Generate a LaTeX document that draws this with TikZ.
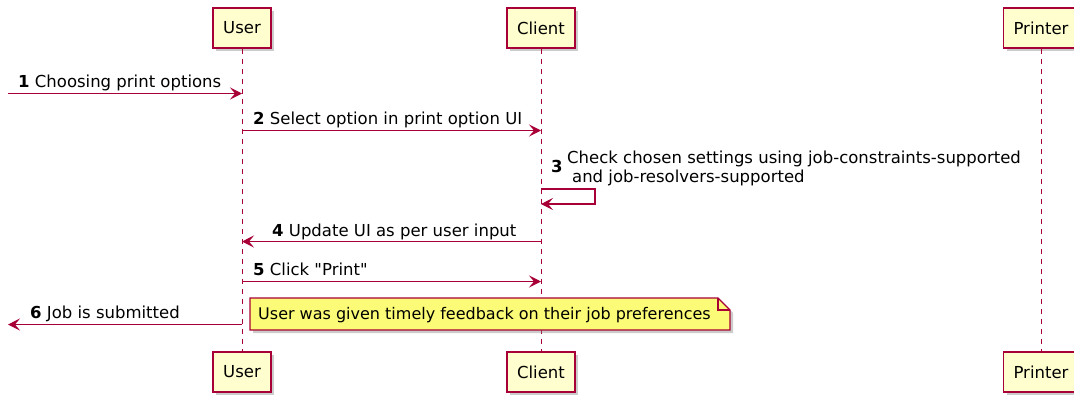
\documentclass[tikz,border=0pt]{standalone}
\usepackage{fontspec}
\setmainfont{DejaVu Sans}
\usetikzlibrary{arrows.meta,shadows}
\definecolor{umlred}{HTML}{A80036}
\definecolor{umlbox}{HTML}{FEFECE}
\definecolor{umlnote}{HTML}{FBFB77}
\begin{document}
\begin{tikzpicture}[x=1pt,y=-1pt,
    party/.style={draw=umlred,fill=umlbox,line width=1.5pt,minimum height=40pt,inner xsep=10pt,
      font=\fontsize{16.5}{19}\selectfont,drop shadow={shadow xshift=3pt,shadow yshift=-3pt,opacity=0.4}},
    life/.style={umlred,line width=1pt,dash pattern=on 5pt off 5pt},
    msg/.style={umlred,line width=1.3pt,-{Stealth[length=12pt,width=12pt,inset=5pt]}},
    lbl/.style={inner sep=0pt,anchor=base west,font=\fontsize{16.5}{19}\selectfont},
    notebox/.style={draw=umlred,fill=umlnote,line width=1.2pt,drop shadow={shadow xshift=3pt,shadow yshift=-3pt,opacity=0.4}}]
          \clip (0,0) rectangle (1074,394);
          \fill[white] (0,0) rectangle (1074,394);
          \node[party] (userTop) at (242,28) {User};
          \node[party] (clientTop) at (541,28) {Client};
          \node[party] (printerTop) at (1041,28) {Printer};
          \node[party] (userBot) at (242,372) {User};
          \node[party] (clientBot) at (541,372) {Client};
          \node[party] (printerBot) at (1041,372) {Printer};
          \draw[life] (userTop) -- (userBot);
          \draw[life] (clientTop) -- (clientBot);
          \draw[life] (printerTop) -- (printerBot);
          \coordinate (in1) at (8,93.5);
          \coordinate (out6) at (8,324.5);
          \coordinate (loopA) at (595,189);
          \coordinate (loopB) at (595,204);
          \draw[msg] (in1) -- (in1 -| userTop);
          \node[lbl] at (18,87) {\textbf{1} Choosing print options};
          \draw[msg] (userTop |- 0,130.5) -- (clientTop |- 0,130.5);
          \node[lbl] at (253,124) {\textbf{2} Select option in print option UI};
          \draw[msg] (loopA -| clientTop) -- (loopA) -- (loopB) -- (loopB -| clientTop);
          \node[lbl] at (551,172) {\textbf{3}};
          \node[lbl,align=left] at (567,182) {Check chosen settings using job-constraints-supported\\\hspace*{0.3em}and job-resolvers-supported};
          \draw[msg] (clientTop |- 0,241.5) -- (userTop |- 0,241.5);
          \node[lbl] at (272,236) {\textbf{4} Update UI as per user input};
          \draw[msg] (userTop |- 0,281.5) -- (clientTop |- 0,281.5);
          \node[lbl] at (253,275) {\textbf{5} Click \textquotedbl Print\textquotedbl};
          \draw[msg] (out6 -| userTop) -- (out6);
          \node[lbl] at (30,318) {\textbf{6} Job is submitted};
          \draw[notebox] (250,298) -- (718,298) -- (730,310) -- (730,330) -- (250,330) -- cycle;
          \draw[umlred,line width=1.2pt] (718,298) -- (718,310) -- (730,310);
          \node[lbl,font=\fontsize{16}{19}\selectfont] (note) at (258,319) {User was given timely feedback on their job preferences};
\end{tikzpicture}
\end{document}
